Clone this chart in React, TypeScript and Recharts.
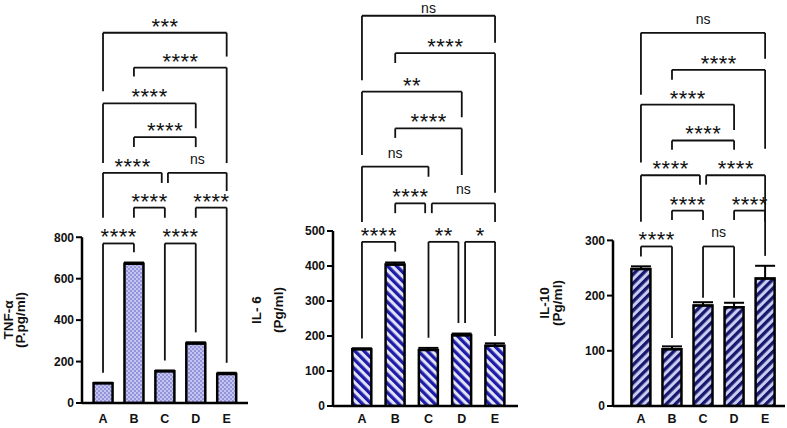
import { BarChart, Bar, XAxis, YAxis, ErrorBar, ReferenceLine } from 'recharts';

const groups = ['A', 'B', 'C', 'D', 'E'];

// TNF-α
const tnfMean = [95, 672, 153, 287, 140];
const tnfSem = [3, 6, 4, 6, 6];
const tnfTicks = [0, 200, 400, 600, 800];

// IL-6
const il6Mean = [162, 404, 160, 202, 172];
const il6Sem = [3, 6, 6, 5, 7];
const il6Ticks = [0, 100, 200, 300, 400, 500];

// IL-10
const il10Mean = [248, 103, 182, 179, 231];
const il10Sem = [5, 5, 6, 8, 23];
const il10Ticks = [0, 100, 200, 300];

// comparisons: [from, to, label, bracket height, left leg end, right leg end] (data units)
type Bracket = [string, string, string, number, number, number];

const tnfBrackets: Bracket[] = [
  ['A', 'B', '****', 770, 146, 728],
  ['C', 'D', '****', 770, 205, 341],
  ['B', 'C', '****', 943, 894, 894],
  ['D', 'E', '****', 943, 894, 194],
  ['A', 'C', '****', 1111, 894, 1062],
  ['C', 'E', 'ns', 1111, 1062, 1023],
  ['B', 'D', '****', 1283, 1235, 1235],
  ['A', 'D', '****', 1446, 1158, 1326],
  ['B', 'E', '****', 1619, 1576, 1158],
  ['A', 'E', '***', 1787, 1504, 1672],
];

const il6Brackets: Bracket[] = [
  ['A', 'B', '****', 469, 193, 441],
  ['C', 'D', '**', 469, 195, 237],
  ['D', 'E', '*', 469, 237, 200],
  ['B', 'C', '****', 579, 551, 551],
  ['C', 'E', 'ns', 579, 551, 526],
  ['A', 'C', 'ns', 684, 526, 655],
  ['B', 'D', '****', 793, 766, 660],
  ['A', 'D', '**', 898, 717, 825],
  ['B', 'E', '****', 1008, 980, 609],
  ['A', 'E', 'ns', 1115, 931, 1038],
];

const il10Brackets: Bracket[] = [
  ['A', 'B', '****', 289, 271, 123],
  ['C', 'D', 'ns', 289, 196, 196],
  ['B', 'C', '****', 354, 337, 337],
  ['D', 'E', '****', 354, 337, 272],
  ['A', 'C', '****', 418, 334, 401],
  ['C', 'E', '****', 418, 401, 334],
  ['B', 'D', '****', 481, 464, 464],
  ['A', 'D', '****', 546, 441, 500],
  ['B', 'E', '****', 609, 591, 466],
  ['A', 'E', 'ns', 676, 564, 629],
];

const FONT = '"Liberation Sans", Arial, sans-serif';

const panels = [
  {
    id: 'tnf', mean: tnfMean, sem: tnfSem, ticks: tnfTicks, brackets: tnfBrackets,
    left: 0, width: 255, yWidth: 82, right: 7, xHeight: 25, xMargin: 5, yMax: 1945, xDomain: [-0.68, 4.69],
    title: ['TNF-α', '(P.pg/ml)'], titleX: [8.5, 20.5], titleY: 320,
  },
  {
    id: 'il6', mean: il6Mean, sem: il6Sem, ticks: il6Ticks, brackets: il6Brackets,
    left: 255, width: 270, yWidth: 78, right: 7, xHeight: 22, xMargin: 2, yMax: 1160, xDomain: [-0.87, 4.69],
    title: ['IL- 6', '(Pg/ml)'], titleX: [256, 278], titleY: 310,
  },
  {
    id: 'il10', mean: il10Mean, sem: il10Sem, ticks: il10Ticks, brackets: il10Brackets,
    left: 525, width: 262, yWidth: 88, right: 2, xHeight: 22, xMargin: 2, yMax: 735.5, xDomain: [-0.9, 4.64],
    title: ['IL-10', '(Pg/ml)'], titleX: [544, 557], titleY: 303,
  },
];

function BracketLabel(props: any) {
  const { viewBox, text } = props;
  const cx = viewBox.x + viewBox.width / 2;
  const stars = text.includes('*');
  // keep the top-most label inside the picture
  const y = stars ? viewBox.y + 1 : Math.max(viewBox.y - 9, 13);
  return (
    <text
      x={cx + (stars ? 0.25 : 0)}
      y={y}
      textAnchor="middle"
      fontFamily={FONT}
      fontSize={stars ? 22 : 14}
      letterSpacing={stars ? 0.5 : 0}
      fill="#111"
    >
      {text}
    </text>
  );
}

function Patterns({ id }: { id: string }) {
  if (id === 'tnf') {
    return (
      <pattern id="tnf-fill" width={4} height={4} patternUnits="userSpaceOnUse">
        <rect width={4} height={4} fill="#c4c4f2" />
        <rect width={2} height={2} fill="#9494d8" />
        <rect x={2} y={2} width={2} height={2} fill="#9494d8" />
      </pattern>
    );
  }
  const dark = id === 'il6' ? '#1c1ca8' : '#17176e';
  const light = id === 'il6' ? '#e2e2f8' : '#c9cdf1';
  const angle = id === 'il6' ? -45 : 45;
  return (
    <pattern id={`${id}-fill`} width={6.4} height={6.4} patternUnits="userSpaceOnUse" patternTransform={`rotate(${angle})`}>
      <rect width={6.4} height={6.4} fill={light} />
      <rect width={3.3} height={6.4} fill={dark} />
    </pattern>
  );
}

function Panel({ p }: { p: (typeof panels)[number] }) {
  const rows = groups.map((g, i) => ({ x: i, name: g, mean: p.mean[i], err: [0, p.sem[i]] }));
  const idx = (g: string) => groups.indexOf(g);
  const lineProps = { stroke: '#111', strokeWidth: 1.8, ifOverflow: 'visible' as const };

  return (
    <div style={{ position: 'absolute', left: p.left, top: 0 }}>
      <BarChart
        width={p.width}
        height={428}
        data={rows}
        margin={{ top: 0, right: p.right, bottom: 0, left: 0 }}
      >
        <defs>
          <Patterns id={p.id} />
        </defs>
        <XAxis
          dataKey="x"
          type="number"
          domain={p.xDomain}
          allowDataOverflow
          ticks={[0, 1, 2, 3, 4]}
          interval={0}
          tickFormatter={(v: number) => groups[v]}
          height={p.xHeight}
          axisLine={{ stroke: '#000', strokeWidth: 2.5 }}
          tickLine={false}
          tickSize={6}
          tickMargin={p.xMargin}
          tick={{ fontSize: 12.5, fontWeight: 700, fill: '#111', fontFamily: FONT }}
        />
        <YAxis
          type="number"
          domain={[0, p.yMax]}
          allowDataOverflow
          ticks={p.ticks}
          interval={0}
          width={p.yWidth}
          axisLine={false}
          tickLine={{ stroke: '#000', strokeWidth: 2 }}
          tickSize={6}
          tickMargin={2}
          tick={{ fontSize: 12, fontWeight: 700, fill: '#111', fontFamily: FONT }}
        />
        <Bar
          dataKey="mean"
          barSize={19}
          fill={`url(#${p.id}-fill)`}
          stroke="#000"
          strokeWidth={2.5}
          isAnimationActive={false}
        >
          <ErrorBar dataKey="err" direction="y" width={10} stroke="#000" strokeWidth={2} isAnimationActive={false} />
        </Bar>
        <ReferenceLine
          segment={[{ x: p.xDomain[0], y: 0 }, { x: p.xDomain[0], y: p.ticks[p.ticks.length - 1] }]}
          stroke="#000"
          strokeWidth={2.5}
          ifOverflow="visible"
        />
        {p.brackets.map(([from, to, label, h, leftEnd, rightEnd], k) => {
          // pull ends apart where two brackets at the same height meet on one group
          const shareLeft = p.brackets.some((b) => b[3] === h && b[1] === from);
          const shareRight = p.brackets.some((b) => b[3] === h && b[0] === to);
          const x1 = idx(from) + (shareLeft ? 0.1 : 0);
          const x2 = idx(to) - (shareRight ? 0.1 : 0);
          return [
            <ReferenceLine
              key={`h${k}`}
              segment={[{ x: x1, y: h }, { x: x2, y: h }]}
              label={<BracketLabel text={label} />}
              {...lineProps}
            />,
            <ReferenceLine key={`l${k}`} segment={[{ x: x1, y: h }, { x: x1, y: leftEnd }]} {...lineProps} />,
            <ReferenceLine key={`r${k}`} segment={[{ x: x2, y: h }, { x: x2, y: rightEnd }]} {...lineProps} />,
          ];
        })}
      </BarChart>
    </div>
  );
}

export default function App() {
  return (
    <div style={{ position: 'absolute', left: 0, top: 0, width: 787, height: 428, background: '#fff' }}>
      {panels.map((p) => (
        <Panel key={p.id} p={p} />
      ))}
      <svg width={787} height={428} style={{ position: 'absolute', left: 0, top: 0, pointerEvents: 'none' }}>
        {panels.map((p) =>
          p.title.map((t, i) => (
            <text
              key={p.id + i}
              x={p.titleX[i]}
              y={p.titleY}
              transform={`rotate(-90 ${p.titleX[i]} ${p.titleY})`}
              textAnchor="middle"
              dominantBaseline="central"
              fontFamily={FONT}
              fontSize={13.5}
              fontWeight={700}
              fill="#111"
            >
              {t}
            </text>
          ))
        )}
      </svg>
    </div>
  );
}
